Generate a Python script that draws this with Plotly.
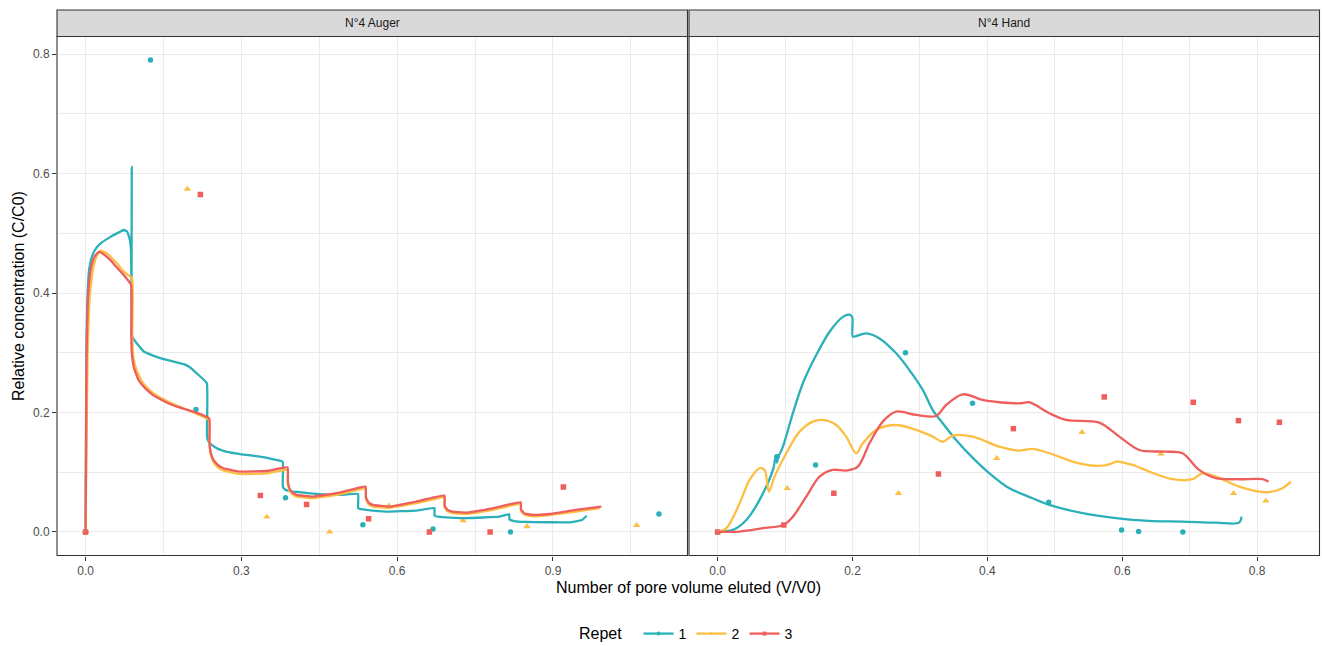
import plotly.graph_objects as go

# ---------------- data ----------------
repets = ["1", "2", "3"]
colors = {"1": "#2BB0BA", "2": "#FCBF44", "3": "#EE5E5C"}
symbols = {"1": "circle", "2": "triangle-up", "3": "square"}
msize = {"1": 5.5, "2": 6.5, "3": 5.5}

panels = ["N°4 Auger", "N°4 Hand"]

# Fitted curves - panel "N°4 Auger"
auger_line_x_1 = [0, 0.001, 0.002, 0.004, 0.007, 0.012, 0.018, 0.029, 0.048, 0.065, 0.0735, 0.080, 0.085, 0.0875,
                  0.0885, 0.089, 0.0892, 0.091, 0.096, 0.104, 0.112, 0.128, 0.144, 0.17, 0.189, 0.2, 0.214, 0.2335,
                  0.2338, 0.237, 0.243, 0.255, 0.272, 0.3, 0.336, 0.36, 0.3795, 0.3798, 0.384, 0.390, 0.400, 0.432,
                  0.4894, 0.5246, 0.5249, 0.531, 0.5406, 0.579, 0.6367, 0.6718, 0.672, 0.678, 0.688, 0.7326, 0.7965,
                  0.8157, 0.816, 0.825, 0.835, 0.8925, 0.931, 0.956, 0.965]
auger_line_y_1 = [0, 0.2, 0.33, 0.40, 0.44, 0.46, 0.472, 0.483, 0.494, 0.502, 0.5055, 0.503, 0.49, 0.47,
                  0.40, 0.611, 0.33, 0.325, 0.3185, 0.31, 0.302, 0.296, 0.291, 0.285, 0.281, 0.276, 0.2655, 0.249,
                  0.1595, 0.151, 0.1456, 0.139, 0.134, 0.130, 0.126, 0.122, 0.1177, 0.076, 0.071, 0.069, 0.0675, 0.0647,
                  0.062, 0.0636, 0.0397, 0.038, 0.0368, 0.034, 0.0357, 0.0397, 0.0268, 0.0255, 0.0246, 0.023, 0.0256,
                  0.0297, 0.0212, 0.018, 0.017, 0.0162, 0.016, 0.020, 0.027]

auger_line_x_2 = [0, 0.002, 0.004, 0.007, 0.011, 0.016, 0.022, 0.0288, 0.04, 0.05, 0.062, 0.0735, 0.0896,
                  0.0899, 0.091, 0.095, 0.1, 0.1088, 0.12, 0.131, 0.15, 0.176, 0.208, 0.238,
                  0.2385, 0.241, 0.2463, 0.255, 0.2655, 0.2975, 0.3487, 0.389,
                  0.3895, 0.393, 0.4, 0.4063, 0.438, 0.4894, 0.5393,
                  0.5397, 0.545, 0.5534, 0.5854, 0.6367, 0.691,
                  0.6913, 0.697, 0.707, 0.7326, 0.7837, 0.838,
                  0.8383, 0.845, 0.8605, 0.8925, 0.9437, 0.99]
auger_line_y_2 = [0, 0.15, 0.30, 0.38, 0.42, 0.447, 0.463, 0.471, 0.467, 0.459, 0.448, 0.4357, 0.4245,
                  0.33, 0.30, 0.280, 0.268, 0.2516, 0.240, 0.232, 0.222, 0.211, 0.200, 0.1874,
                  0.15, 0.13, 0.117, 0.108, 0.103, 0.097, 0.098, 0.104,
                  0.08, 0.069, 0.062, 0.059, 0.0565, 0.063, 0.0725,
                  0.055, 0.046, 0.0425, 0.0405, 0.048, 0.058,
                  0.041, 0.0345, 0.0315, 0.030, 0.037, 0.047,
                  0.035, 0.029, 0.026, 0.028, 0.034, 0.040]

auger_line_x_3 = [0, 0.001, 0.002, 0.004, 0.007, 0.012, 0.018, 0.0256, 0.035, 0.048, 0.06, 0.0735, 0.0877,
                  0.088, 0.089, 0.0927, 0.0975, 0.1023, 0.11, 0.118, 0.13, 0.144, 0.16, 0.176, 0.208, 0.238,
                  0.2385, 0.241, 0.2463, 0.2552, 0.2655, 0.2975, 0.3487, 0.389,
                  0.3895, 0.393, 0.4, 0.4063, 0.438, 0.4894, 0.5393,
                  0.5397, 0.545, 0.5534, 0.5854, 0.6367, 0.691,
                  0.6913, 0.697, 0.707, 0.7326, 0.7837, 0.838,
                  0.8383, 0.845, 0.8605, 0.8925, 0.9437, 0.993]
auger_line_y_3 = [0, 0.15, 0.30, 0.38, 0.42, 0.448, 0.462, 0.469, 0.465, 0.455, 0.443, 0.430, 0.4134,
                  0.33, 0.30, 0.2767, 0.264, 0.254, 0.245, 0.2377, 0.229, 0.222, 0.215, 0.2097, 0.2014, 0.190,
                  0.15, 0.133, 0.1205, 0.112, 0.1066, 0.101, 0.102, 0.108,
                  0.085, 0.072, 0.0648, 0.062, 0.0592, 0.0658, 0.0759,
                  0.058, 0.049, 0.0452, 0.0424, 0.0508, 0.0608,
                  0.044, 0.037, 0.034, 0.0324, 0.0396, 0.0496,
                  0.038, 0.031, 0.0285, 0.030, 0.0368, 0.0424]

# Fitted curves - panel "N°4 Hand"
hand_line_x_1 = [0, 0.0227, 0.0425, 0.0622, 0.082, 0.0865, 0.0879, 0.0895, 0.0968, 0.1116, 0.1264, 0.1462, 0.166,
                 0.1857, 0.1956, 0.1995, 0.2005, 0.2054, 0.2203, 0.240, 0.2647, 0.2844, 0.3042, 0.319, 0.3338,
                 0.3536, 0.3783, 0.403, 0.4326, 0.467, 0.4919, 0.5412, 0.5906, 0.640, 0.6893, 0.7388, 0.7733,
                 0.7768]
hand_line_y_1 = [0, 0.0033, 0.020, 0.0536, 0.1038, 0.128, 0.116, 0.124, 0.1428, 0.199, 0.249, 0.2962, 0.3352,
                 0.360, 0.3637, 0.360, 0.3269, 0.328, 0.3325, 0.324, 0.299, 0.271, 0.2377, 0.204, 0.1819,
                 0.154, 0.124, 0.0982, 0.0731, 0.0564, 0.0452, 0.0313, 0.023, 0.0184, 0.0173, 0.0156, 0.0156,
                 0.0256]

hand_line_x_2 = [0, 0.0129, 0.0326, 0.0474, 0.0622, 0.0696, 0.076, 0.0844, 0.1017, 0.1215, 0.1412, 0.156,
                 0.1758, 0.1906, 0.2054, 0.2153, 0.235, 0.2647, 0.2944, 0.319, 0.3338, 0.3486, 0.3783, 0.4178,
                 0.4474, 0.467, 0.4919, 0.5314, 0.566, 0.5832, 0.5906, 0.6153, 0.64, 0.6745, 0.7042, 0.719,
                 0.7388, 0.7733, 0.8128, 0.8375, 0.85]
hand_line_y_2 = [0, 0.0062, 0.048, 0.087, 0.1066, 0.1038, 0.0675, 0.0926, 0.1317, 0.1679, 0.1847, 0.1875,
                 0.179, 0.1595, 0.1317, 0.1484, 0.1707, 0.179, 0.1707, 0.1595, 0.1512, 0.1613, 0.1595, 0.1428,
                 0.1362, 0.1389, 0.1317, 0.1161, 0.1105, 0.1138, 0.1177, 0.1121, 0.101, 0.0882, 0.0882, 0.0982,
                 0.0926, 0.0759, 0.0664, 0.0731, 0.0842]

hand_line_x_3 = [0, 0.0326, 0.067, 0.0978, 0.1116, 0.1314, 0.1511, 0.1708, 0.1906, 0.2079, 0.2252, 0.2449,
                 0.2647, 0.2944, 0.324, 0.3388, 0.3634, 0.393, 0.4178, 0.4499, 0.4622, 0.4919, 0.5166, 0.566,
                 0.5956, 0.6252, 0.6647, 0.6893, 0.714, 0.7388, 0.7733, 0.8079, 0.8168]
hand_line_y_3 = [0, 0.0006, 0.0062, 0.0117, 0.0256, 0.059, 0.0926, 0.1038, 0.1026, 0.1093, 0.1484, 0.1847,
                 0.2014, 0.1958, 0.1941, 0.2125, 0.2304, 0.2209, 0.2171, 0.2154, 0.2171, 0.1987, 0.1875, 0.1830,
                 0.1595, 0.1372, 0.1344, 0.1317, 0.1038, 0.0899, 0.0882, 0.0882, 0.0842]

# Observations
auger_pts_x_1 = [0, 0.125, 0.2125, 0.385, 0.534, 0.669, 0.818, 1.104]
auger_pts_y_1 = [0, 0.79, 0.205, 0.057, 0.012, 0.005, 0.0, 0.030]
auger_pts_x_2 = [0, 0.196, 0.349, 0.470, 0.584, 0.727, 0.850, 1.061]
auger_pts_y_2 = [0, 0.574, 0.025, 0.0, 0.044, 0.019, 0.009, 0.011]
auger_pts_x_3 = [0, 0.221, 0.3366, 0.4255, 0.545, 0.662, 0.779, 0.920]
auger_pts_y_3 = [0, 0.565, 0.061, 0.046, 0.022, 0.0, 0.0, 0.075]

hand_pts_x_1 = [0, 0.088, 0.1452, 0.2785, 0.378, 0.4909, 0.599, 0.6242, 0.6899]
hand_pts_y_1 = [0, 0.126, 0.112, 0.300, 0.2154, 0.0497, 0.0033, 0.0006, 0.0]
hand_pts_x_2 = [0, 0.1032, 0.2681, 0.4138, 0.5402, 0.6573, 0.765, 0.8128]
hand_pts_y_2 = [0, 0.073, 0.0647, 0.1233, 0.1668, 0.1305, 0.0647, 0.0519]
hand_pts_x_3 = [0, 0.0982, 0.1723, 0.3274, 0.4385, 0.5733, 0.7052, 0.7723, 0.833]
hand_pts_y_3 = [0, 0.0117, 0.0647, 0.097, 0.1729, 0.226, 0.217, 0.1863, 0.1835]

x_ticks_auger = [0.0, 0.3, 0.6, 0.9]
x_ticks_hand = [0.0, 0.2, 0.4, 0.6, 0.8]
y_ticks = [0.0, 0.2, 0.4, 0.6, 0.8]

lines = {
    "x": {"1": auger_line_x_1, "2": auger_line_x_2, "3": auger_line_x_3},
    "y": {"1": auger_line_y_1, "2": auger_line_y_2, "3": auger_line_y_3},
}
lines2 = {
    "x": {"1": hand_line_x_1, "2": hand_line_x_2, "3": hand_line_x_3},
    "y": {"1": hand_line_y_1, "2": hand_line_y_2, "3": hand_line_y_3},
}
pts = {
    "x": {"1": auger_pts_x_1, "2": auger_pts_x_2, "3": auger_pts_x_3},
    "y": {"1": auger_pts_y_1, "2": auger_pts_y_2, "3": auger_pts_y_3},
}
pts2 = {
    "x": {"1": hand_pts_x_1, "2": hand_pts_x_2, "3": hand_pts_x_3},
    "y": {"1": hand_pts_y_1, "2": hand_pts_y_2, "3": hand_pts_y_3},
}

# ---------------- layout geometry ----------------
W, H = 1322, 646
FONT = "Liberation Sans, Arial, sans-serif"


def px(x):
    return x / W


def py(y):
    return (H - y) / H


left_dom = [px(57), px(687.5)]
right_dom = [px(689), px(1319.5)]
y_dom = [py(555.5), py(36.5)]
strip_top = py(10)

fig = go.Figure()

for axes, L, P, smooth in (("x", lines, pts, 0.3), ("x2", lines2, pts2, 0.9)):
    yax = "y" if axes == "x" else "y2"
    for r in repets:
        fig.add_trace(go.Scatter(
            x=P["x"][r], y=P["y"][r], mode="markers", xaxis=axes, yaxis=yax,
            marker=dict(color=colors[r], symbol=symbols[r], size=msize[r], line=dict(width=0)),
            showlegend=False, hoverinfo="x+y"))
    for r in repets:
        fig.add_trace(go.Scatter(
            x=L["x"][r], y=L["y"][r], mode="lines", xaxis=axes, yaxis=yax,
            line=dict(color=colors[r], width=2.3, shape="spline", smoothing=smooth),
            showlegend=False, hoverinfo="x+y"))

# legend keys
for r in repets:
    fig.add_trace(go.Scatter(
        x=[None], y=[None], mode="lines+markers", name=r,
        line=dict(color=colors[r], width=2.3),
        marker=dict(color=colors[r], symbol=symbols[r], size=4),
        xaxis="x", yaxis="y"))

grid = "#EBEBEB"
common_x = dict(
    showgrid=True, gridcolor=grid, gridwidth=1.1, zeroline=False, showline=False,
    ticks="outside", ticklen=4, tickcolor="#333333", tickwidth=1,
    tickfont=dict(family=FONT, size=12, color="#4D4D4D"), tickformat=".1f",
    anchor="y",
)

fig.update_layout(
    width=W, height=H,
    margin=dict(l=0, r=0, t=0, b=0, autoexpand=False),
    paper_bgcolor="white", plot_bgcolor="white",
    font=dict(family=FONT),
    xaxis=dict(domain=left_dom, range=[-0.055, 1.159], tickvals=x_ticks_auger,
               minor=dict(tickvals=[0.15, 0.45, 0.75, 1.05], showgrid=True, gridcolor=grid, gridwidth=0.6, ticks=""),
               **common_x),
    xaxis2=dict(domain=right_dom, range=[-0.0425, 0.8925], tickvals=x_ticks_hand,
                minor=dict(tickvals=[0.1, 0.3, 0.5, 0.7], showgrid=True, gridcolor=grid, gridwidth=0.6, ticks=""),
                **{**common_x, "anchor": "y2"}),
    yaxis=dict(domain=y_dom, range=[-0.0395, 0.8295], tickvals=y_ticks, anchor="x",
               showgrid=True, gridcolor=grid, gridwidth=1.1, zeroline=False, showline=False,
               ticks="outside", ticklen=4, tickcolor="#333333", tickwidth=1,
               tickfont=dict(family=FONT, size=12, color="#4D4D4D"), tickformat=".1f",
               minor=dict(tickvals=[0.1, 0.3, 0.5, 0.7], showgrid=True, gridcolor=grid, gridwidth=0.6, ticks="")),
    yaxis2=dict(domain=y_dom, range=[-0.0395, 0.8295], tickvals=y_ticks, anchor="x2", matches="y",
                showgrid=True, gridcolor=grid, gridwidth=1.1, zeroline=False, showline=False,
                showticklabels=False, ticks="",
                minor=dict(tickvals=[0.1, 0.3, 0.5, 0.7], showgrid=True, gridcolor=grid, gridwidth=0.6, ticks="")),
    legend=dict(orientation="h", x=0.52, xanchor="center", y=py(634), yanchor="middle",
                title=dict(text="Repet  ", side="left", font=dict(family=FONT, size=16, color="#000000")),
                font=dict(family=FONT, size=14, color="#000000"),
                itemwidth=30, tracegroupgap=0, bgcolor="rgba(0,0,0,0)"),
    showlegend=True,
    hovermode="closest",
)

shapes = []
for dom, label in ((left_dom, panels[0]), (right_dom, panels[1])):
    shapes.append(dict(type="rect", xref="paper", yref="paper", x0=dom[0], x1=dom[1], y0=y_dom[0], y1=y_dom[1],
                       line=dict(color="#333333", width=1.1), fillcolor="rgba(0,0,0,0)", layer="above"))
    shapes.append(dict(type="rect", xref="paper", yref="paper", x0=dom[0], x1=dom[1], y0=y_dom[1], y1=strip_top,
                       line=dict(color="#333333", width=1.1), fillcolor="#D9D9D9", layer="above"))
fig.update_layout(shapes=shapes)

annotations = []
for dom, label in ((left_dom, panels[0]), (right_dom, panels[1])):
    annotations.append(dict(text=label, xref="paper", yref="paper", x=(dom[0] + dom[1]) / 2,
                            y=(y_dom[1] + strip_top) / 2, showarrow=False, xanchor="center", yanchor="middle",
                            font=dict(family=FONT, size=12, color="#1A1A1A")))
annotations.append(dict(text="Number of pore volume eluted (V/V0)", xref="paper", yref="paper",
                        x=(left_dom[0] + right_dom[1]) / 2, y=py(587), showarrow=False,
                        xanchor="center", yanchor="middle", font=dict(family=FONT, size=16, color="#000000")))
annotations.append(dict(text="Relative concentration (C/C0)", xref="paper", yref="paper",
                        x=px(18), y=(y_dom[0] + y_dom[1]) / 2, showarrow=False, textangle=-90,
                        xanchor="center", yanchor="middle", font=dict(family=FONT, size=16, color="#000000")))
fig.update_layout(annotations=annotations)

fig.write_html(
    "out.html",
    config={"displayModeBar": False},
    post_script="document.body.style.margin='0';document.body.style.padding='0';"
                "document.body.style.overflow='hidden';document.documentElement.style.overflow='hidden';",
)
